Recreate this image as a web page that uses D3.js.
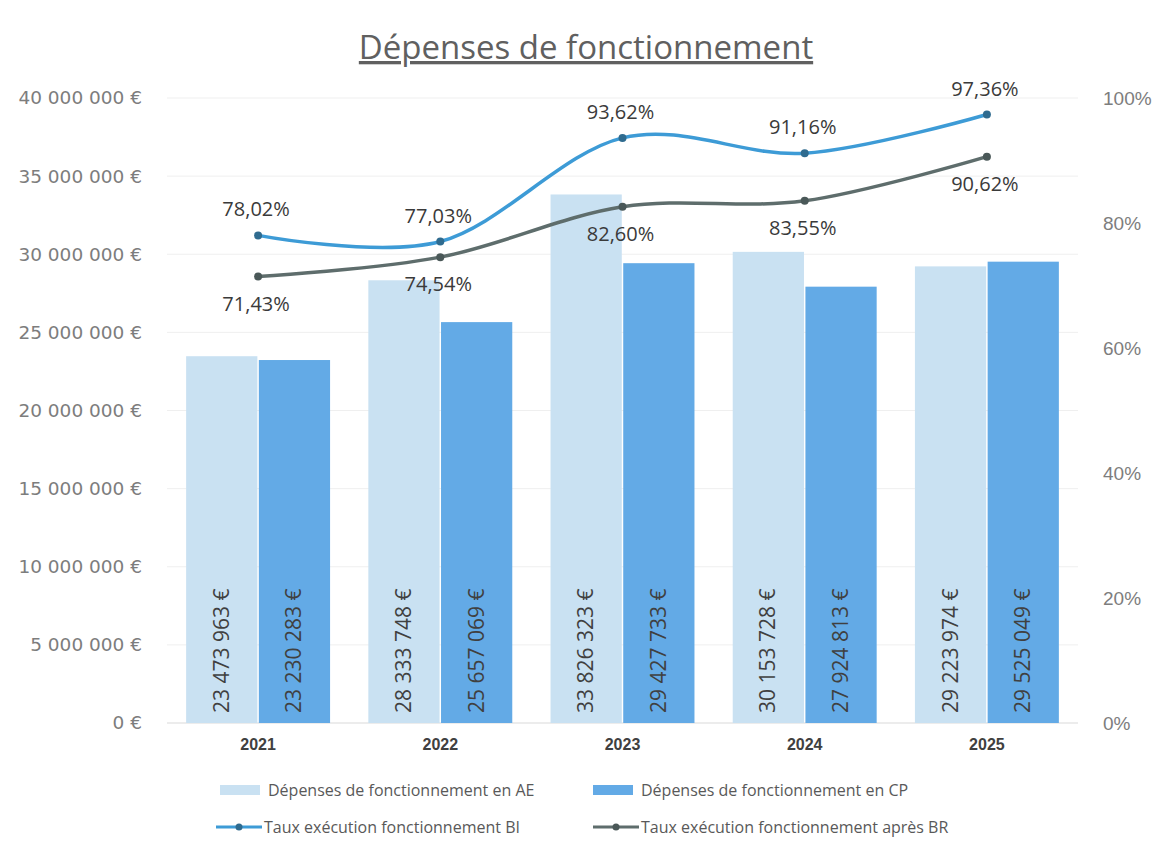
<!DOCTYPE html>
<html>
<head>
<meta charset="utf-8">
<script src="https://cdn.jsdelivr.net/npm/d3@7"></script>
<style>
  body { margin: 0; background: #fff; }
  svg { font-family: "Open Sans", sans-serif; }
</style>
</head>
<body>
<div id="chart"></div>
<script>
// data
var years = ["2021", "2022", "2023", "2024", "2025"];
var depensesAE = [23473963, 28333748, 33826323, 30153728, 29223974];
var depensesCP = [23230283, 25657069, 29427733, 27924813, 29525049];
var tauxBI = [0.7802, 0.7703, 0.9362, 0.9116, 0.9736];
var tauxBR = [0.7143, 0.7454, 0.8260, 0.8355, 0.9062];
var leftTicks = [0, 5000000, 10000000, 15000000, 20000000, 25000000, 30000000, 35000000, 40000000];
var rightTicks = [0, 0.2, 0.4, 0.6, 0.8, 1];

var width = 1159, height = 846,
  margin = {top: 98, right: 81, bottom: 123, left: 167},
  innerWidth = width - margin.left - margin.right,
  innerHeight = height - margin.top - margin.bottom;

var fr = d3.formatLocale({decimal: ",", thousands: " ", grouping: [3], currency: ["", " €"], percent: "%"});
var fmtEuro = fr.format("$,.0f");
var fmtPct = fr.format(".2%");
var fmtPct0 = fr.format(".0%");

var colAE = "#c9e1f2", colCP = "#63aae6", colBI = "#3d9bd6", colBR = "#5e6d6c";

var svg = d3.select("#chart").append("svg")
  .attr("width", width)
  .attr("height", height);

// title
svg.append("text")
  .attr("x", 586)
  .attr("y", 59)
  .attr("text-anchor", "middle")
  .style("font-size", "33px")
  .style("text-decoration", "underline")
  .attr("fill", "#606060")
  .text("Dépenses de fonctionnement");

var g = svg.append("g")
  .attr("transform", "translate(" + margin.left + "," + margin.top + ")");

var xScale = d3.scaleBand().domain(years).range([0, innerWidth]).paddingInner(0.21).paddingOuter(0.105);
var xSub = d3.scaleBand().domain(["AE", "CP"]).range([0, xScale.bandwidth()]).paddingInner(0.02);
var yScale = d3.scaleLinear().domain([0, 40000000]).range([innerHeight, 0]);
var yRight = d3.scaleLinear().domain([0, 1]).range([innerHeight, 0]);

// gridlines
g.append("g").attr("class", "grid")
  .selectAll("line").data(leftTicks).enter().append("line")
  .attr("x1", 0).attr("x2", innerWidth)
  .attr("y1", function(d) { return yScale(d); })
  .attr("y2", function(d) { return yScale(d); })
  .attr("stroke", function(d) { return d === 0 ? "#d9d9d9" : "#efefef"; });

// left axis
var yAxisG = g.append("g").attr("class", "y axis")
  .attr("transform", "translate(-22,0)")
  .call(d3.axisLeft(yScale).tickValues(leftTicks).tickSize(0).tickFormat(fmtEuro));
yAxisG.select(".domain").remove();
yAxisG.selectAll("text")
  .style("font-family", "'DejaVu Sans', sans-serif")
  .style("font-size", "18.5px")
  .attr("fill", "#7d7d7d");

// right axis
var yRightG = g.append("g").attr("class", "y2 axis")
  .attr("transform", "translate(" + (innerWidth + 22) + ",0)")
  .call(d3.axisRight(yRight).tickValues(rightTicks).tickSize(0).tickFormat(fmtPct0));
yRightG.select(".domain").remove();
yRightG.selectAll("text").style("font-size", "19px").attr("fill", "#7d7d7d");

// x axis
var xAxisG = g.append("g").attr("class", "x axis")
  .attr("transform", "translate(0," + innerHeight + ")")
  .call(d3.axisBottom(xScale).tickSize(0).tickPadding(16));
xAxisG.select(".domain").remove();
xAxisG.selectAll("text").style("font-size", "16px").style("font-weight", "600").attr("fill", "#404040");

// bars
var rows = years.map(function(y, i) {
  return {year: y, AE: depensesAE[i], CP: depensesCP[i]};
});

var groups = g.selectAll(".year").data(rows).enter().append("g")
  .attr("class", "year")
  .attr("transform", function(d) { return "translate(" + xScale(d.year) + ",0)"; });

var bars = groups.selectAll(".bar")
  .data(function(d) { return [{k: "AE", v: d.AE}, {k: "CP", v: d.CP}]; })
  .enter();

bars.append("rect")
  .attr("class", "bar")
  .attr("x", function(d) { return xSub(d.k); })
  .attr("y", function(d) { return yScale(d.v); })
  .attr("width", xSub.bandwidth())
  .attr("height", function(d) { return innerHeight - yScale(d.v); })
  .attr("fill", function(d) { return d.k === "AE" ? colAE : colCP; });

bars.append("text")
  .attr("transform", function(d) {
    return "translate(" + (xSub(d.k) + xSub.bandwidth() / 2 + 7) + "," + (innerHeight - 10) + ") rotate(-90)";
  })
  .style("font-size", "21px")
  .attr("fill", "#404040")
  .text(function(d) { return fmtEuro(d.v); });

// lines
var cx = function(i) { return xScale(years[i]) + xScale.bandwidth() / 2; };
var line = d3.line()
  .x(function(d, i) { return cx(i); })
  .y(function(d) { return yRight(d); })
  .curve(d3.curveCatmullRom.alpha(0));

function drawSeries(values, color, markColor, labelDy) {
  g.append("path")
    .datum(values)
    .attr("fill", "none")
    .attr("stroke", color)
    .attr("stroke-width", 3.5)
    .attr("d", line);
  g.append("g").selectAll("circle").data(values).enter().append("circle")
    .attr("cx", function(d, i) { return cx(i); })
    .attr("cy", function(d) { return yRight(d); })
    .attr("r", 4)
    .attr("fill", markColor);
  g.append("g").selectAll("text").data(values).enter().append("text")
    .attr("x", function(d, i) { return cx(i) - 2; })
    .attr("y", function(d) { return yRight(d) + labelDy + 7; })
    .attr("text-anchor", "middle")
    .style("font-size", "20px")
    .attr("fill", "#3a3a3a")
    .text(function(d) { return fmtPct(d); });
}

drawSeries(tauxBI, colBI, "#2f6b8f", -26);
drawSeries(tauxBR, colBR, "#4a5858", 27);

// legend
var legend = svg.append("g").attr("class", "legend")
  .style("font-size", "16px");

var legendItems = [
  {label: "Dépenses de fonctionnement en AE", type: "rect", color: colAE, x: 220, y: 790},
  {label: "Dépenses de fonctionnement en CP", type: "rect", color: colCP, x: 593, y: 790},
  {label: "Taux exécution fonctionnement BI", type: "line", color: colBI, mark: "#2f6b8f", x: 216, y: 827},
  {label: "Taux exécution fonctionnement après BR", type: "line", color: colBR, mark: "#4a5858", x: 593, y: 827}
];

legendItems.forEach(function(item) {
  var lg = legend.append("g").attr("transform", "translate(" + item.x + "," + item.y + ")");
  if (item.type === "rect") {
    lg.append("rect").attr("x", 0).attr("y", -5).attr("width", 40).attr("height", 10).attr("fill", item.color);
  } else {
    lg.append("line").attr("x1", 0).attr("x2", 46).attr("y1", 0).attr("y2", 0)
      .attr("stroke", item.color).attr("stroke-width", 3);
    lg.append("circle").attr("cx", 23).attr("cy", 0).attr("r", 3.5).attr("fill", item.mark);
  }
  lg.append("text")
    .attr("x", 48)
    .attr("y", 6)
    .attr("fill", "#595959")
    .text(item.label);
});
</script>
</body>
</html>
